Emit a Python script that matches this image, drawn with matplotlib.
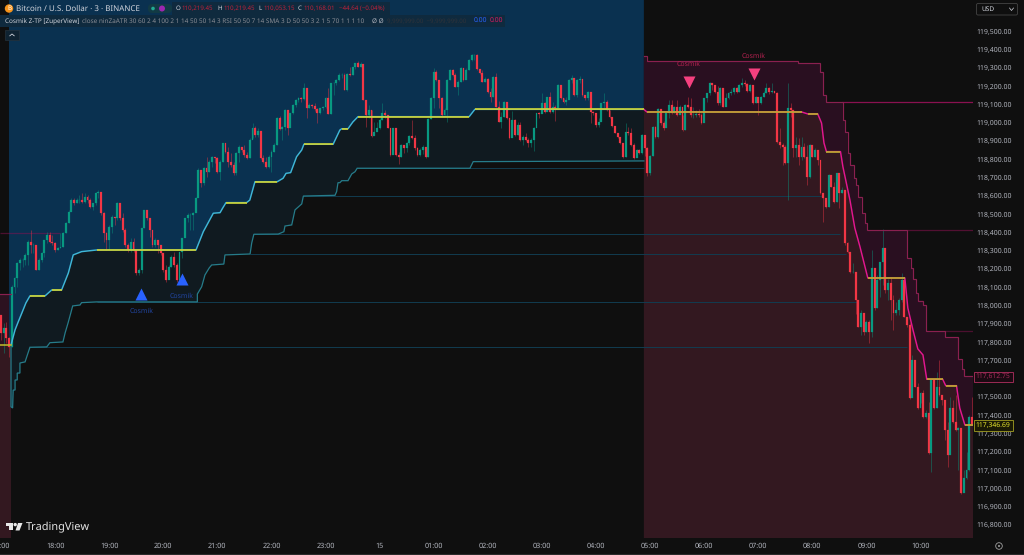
import numpy as np
import matplotlib
matplotlib.use("Agg")
import matplotlib.pyplot as plt
from matplotlib.patches import Rectangle, FancyBboxPatch, Circle, Polygon

plt.rcParams['font.family'] = ['Noto Sans', 'DejaVu Sans']
plt.rcParams['text.hinting'] = 'no_hinting'

first_open = 117940
closes = [
117842,117870,117815,117770,118097,118143,118225,118243,118243,118270,118343,118325,118325,118188,118243,118280,118352,118380,118343,118334,
118298,118307,118316,118389,118444,118507,118571,118553,118571,118571,118562,118590,118571,118535,118553,118608,118617,118498,118389,118352,
118425,118480,118471,118553,118471,118407,118325,118298,118343,118298,118170,118188,118416,118517,118471,118407,118325,118352,118325,118280,
118188,118134,118207,118261,118216,118134,118289,118362,118471,118489,118489,118498,118580,118735,118662,118744,118726,118781,118808,118799,
118726,118781,118881,118835,118781,118762,118717,118826,118863,118844,118817,118799,118899,118963,118926,118950,118799,118781,118753,118808,
118835,118872,119018,118957,118968,119063,118963,119045,119091,119118,119127,119122,119182,119072,119091,119085,119067,119045,119072,119081,
119127,119041,119209,119213,119227,119254,119255,119173,119261,119255,119297,119319,119301,119315,119119,119036,119064,118922,118945,118964,
119009,119046,119036,118964,118818,118964,118818,118809,118872,118854,118882,118922,118909,118854,118818,118845,118860,118809,119013,119128,
119273,119228,119128,119036,119064,119228,119283,119255,119191,119219,119292,119228,119283,119337,119365,119366,119286,119264,119219,119232,
119164,119137,119246,119082,119000,119027,119109,119018,118909,119009,118927,118982,118900,118914,118900,118882,118900,118964,119046,119042,
119104,119055,119133,119055,119082,119073,119201,119128,119109,119119,119228,119237,119146,119228,119232,119146,119128,119164,119055,119046,
118982,119000,119100,119109,119064,119027,118976,118940,118914,118882,118809,118945,118936,118872,118799,118845,118830,118927,118854,118717,
118812,118973,118918,119068,118991,118964,119046,119091,119046,119078,119036,119078,118954,119091,119082,119036,119036,119042,119036,118991,
119128,119155,119210,119201,119164,119100,119182,119082,119128,119155,119164,119182,119164,119201,119210,119206,119170,119201,119100,119133,
119100,119133,119159,119182,119164,119170,119159,118891,118872,118863,118772,119073,119064,118854,118872,118809,118863,118809,118699,118872,
118809,118845,118790,118608,118581,118535,118708,118644,118562,118717,118608,118626,118335,118289,118180,118180,118025,117879,117952,117851,
117906,117851,118200,117979,118134,118230,118310,118079,118116,118025,117952,117970,118025,118134,117933,117888,117487,117696,117551,117432,
117514,117387,117405,117186,117587,117432,117551,117505,117478,117314,117177,117432,117359,117314,117323,116967,117049,117095,117387,117347]
highs = [
117942,117897,117906,117824,118106,118152,118234,118252,118252,118280,118352,118407,118334,118325,118252,118289,118352,118398,118398,118380,
118343,118316,118389,118398,118453,118517,118580,118580,118580,118599,118608,118608,118599,118580,118557,118617,118626,118617,118507,118398,
118435,118489,118480,118562,118553,118498,118416,118334,118362,118362,118298,118198,118416,118517,118517,118471,118371,118362,118352,118325,
118270,118216,118216,118270,118289,118225,118289,118362,118471,118498,118498,118507,118590,118745,118717,118753,118808,118790,118812,118808,
118808,118790,118885,118872,118863,118826,118781,118835,118872,118863,118872,118835,118908,118994,118976,118963,118950,118817,118808,118817,
118844,118881,119023,119030,118976,119067,119063,119049,119094,119122,119132,119132,119209,119182,119100,119096,119103,119072,119072,119085,
119132,119185,119213,119218,119231,119264,119264,119264,119264,119301,119301,119323,119334,119328,119301,119119,119091,119064,119000,119000,
119018,119100,119064,119036,118964,118967,118964,118836,118878,118863,118891,118927,119009,118927,118863,118854,118872,118863,119018,119133,
119292,119283,119228,119137,119073,119232,119286,119286,119264,119228,119297,119292,119292,119341,119368,119370,119370,119286,119283,119246,
119237,119182,119250,119268,119115,119055,119115,119064,119018,119060,119013,119000,119000,118927,118936,118909,118909,118969,119046,119055,
119155,119109,119137,119164,119109,119091,119204,119201,119128,119137,119232,119255,119232,119232,119250,119232,119140,119170,119164,119060,
119046,119018,119104,119155,119119,119064,119027,118976,118940,118914,118882,118991,118973,118964,118882,118849,118849,118933,118918,118863,
118818,118976,118976,119073,119068,119005,119049,119118,119118,119086,119118,119091,119036,119095,119137,119128,119082,119064,119068,119046,
119131,119159,119219,119210,119201,119195,119188,119182,119155,119164,119177,119191,119188,119204,119237,119228,119210,119206,119201,119140,
119137,119140,119170,119210,119188,119210,119164,119164,118964,118882,118872,119210,119100,119064,118918,118909,118914,118882,118872,118878,
118872,118854,118845,118763,118608,118581,118714,118690,118672,118721,118645,118645,118626,118344,118280,118225,118180,118025,117970,117924,
117915,117915,118298,118200,118160,118230,118413,118300,118140,118150,118050,118015,118034,118170,118145,117933,117897,117724,117660,117569,
117523,117532,117423,117469,117591,117587,117633,117696,117496,117469,117359,117496,117478,117505,117332,117314,117095,117195,117396,117496]
lows = [
117806,117733,117787,117714,117769,118061,118097,118188,118207,118216,118216,118280,118280,118188,118188,118234,118261,118334,118334,118325,
118289,118298,118307,118316,118389,118444,118517,118544,118553,118553,118553,118553,118553,118526,118517,118544,118580,118489,118343,118298,
118298,118389,118435,118462,118462,118398,118316,118289,118289,118289,118161,118161,118170,118416,118462,118371,118316,118316,118280,118270,
118179,118125,118161,118207,118207,118125,118179,118252,118380,118453,118407,118407,118507,118600,118644,118653,118699,118726,118753,118771,
118717,118680,118781,118826,118753,118753,118708,118708,118781,118835,118808,118793,118799,118908,118917,118917,118793,118771,118744,118744,
118726,118835,118872,118954,118899,118954,118926,118968,119041,119081,119109,119109,119118,119018,119072,119072,119060,118994,119041,119063,
119072,119041,119041,119145,119200,119223,119237,119173,119170,119250,119255,119286,119297,119301,119119,118973,119018,118918,118940,118954,
118958,119009,119018,118964,118812,118827,118812,118769,118809,118827,118836,118872,118903,118845,118812,118812,118823,118800,118809,119015,
119073,119224,119073,119033,119036,119000,119228,119250,119188,119146,119219,119224,119232,119283,119334,119337,119283,119261,119215,119219,
119159,119109,119137,119078,118996,118967,119027,119013,118903,118914,118922,118927,118896,118872,118896,118863,118863,118841,118969,119018,
119046,119049,119073,119049,119046,119005,119073,119122,119104,119091,119164,119210,119140,119137,119210,119140,119119,119119,118995,119036,
118973,118969,119009,119073,119058,119022,118973,118936,118909,118876,118800,118809,118927,118867,118794,118805,118823,118823,118812,118703,
118708,118812,118909,118909,118982,118954,118969,119018,119042,119046,119031,119042,118951,118954,119073,119027,119018,119027,119024,118987,
119031,119109,119146,119173,119159,119091,119091,119078,119122,119124,119146,119151,119155,119164,119191,119195,119164,119164,119097,119100,
119036,119097,119133,119159,119151,119159,119155,118885,118854,118763,118769,118572,119027,118809,118809,118763,118790,118800,118654,118690,
118805,118809,118763,118604,118453,118526,118535,118641,118557,118562,118526,118608,118326,118284,118174,118174,117950,117875,117833,117833,
117851,117791,117824,117970,117979,118043,118105,118061,118025,117915,117860,117943,117943,118015,117930,117879,117481,117496,117547,117427,
117459,117377,117377,117182,117086,117427,117432,117501,117450,117259,117113,117204,117350,117310,117095,116964,116976,117046,117091,117346]

# trend line while long (bar index, price); flat stretches are drawn yellow
long_x = [3.7,5.2,6.4,7.7,9.2,10.7,16.3,18.7,22.4,24.9,26.7,29.8,35.4,72.1,74.8,78.5,81,82,83.2,90.8,92,93.9,102.1,104.3,105.4,107.1,109.3,111.2,112,122.8,125.3,126,128.3,130.1,132,173.1,175.2,237.7]
long_p = [117779,117861,117906,117953,118008,118047,118047,118079,118079,118172,118271,118289,118298,118298,118398,118499,118502,118528,118557,118557,118571,118671,118671,118690,118717,118721,118808,118845,118876,118876,118954,118961,118961,118998,119027,119027,119067,119067]
short_x = [237.7,238.8,296,298.3,302,303.4,304.3,305.2,310.4,311.3,313.9,315.7,317.6,320.5,334.2,335.3,337.2,339,340.9,342.3,348.2,349.3,353.3,354.5,356.4,359.4]
short_p = [119067,119053,119053,119042,119042,118992,118883,118836,118836,118753,118571,118418,118316,118145,118145,117981,117861,117757,117724,117591,117591,117556,117556,117434,117341,117341]
stub_x = [-0.4,3.7]
stub_p = [117779,117779]

# lower band while long
lower_x = [3.7,3.7,4.3,4.5,5.2,5.2,6,6,7,7,8.9,10,10.7,16.9,18.1,22.9,23.7,24.8,25.8,26.5,29.2,29.8,35.4,72.6,72.6,74.2,75.4,77,77.9,82.4,82.8,92.1,92.7,93.5,102.5,104.6,105,107.5,108.7,111.2,111.8,123.5,124.1,124.6,125.3,126,128.3,129.7,130.9,131.7,173.4,174,174.6,237.7]
lower_p = [117779,117441,117434,117532,117532,117587,117587,117625,117625,117680,117686,117735,117766,117768,117791,117795,117844,117899,117953,117992,117997,118010,118014,118014,118057,118097,118161,118200,118216,118221,118271,118276,118336,118384,118385,118398,118429,118435,118517,118550,118593,118597,118617,118666,118666,118677,118677,118714,118726,118745,118745,118763,118781,118785]

# upper band while short: each price holds until the next bar index
upper_x = [237.7,238.7,294.6,302.8,303.9,305.2,311.2,312,313,314.1,315.3,316.1,316.8,318.2,319.4,320.3,335.1,336.3,337.3,338.3,339.1,341,342,349.2,353.9,355.2,356.1,359.4]
upper_p = [119359,119331,119319,119273,119146,119106,119009,118945,118830,118763,118692,118653,118589,118500,118446,118407,118254,118198,118138,118065,118021,117997,117855,117821,117700,117647,117609,117609]

tp_levels = [118014,117766,118276,118385,118593,118745]
tp_starts = [35.4,10.7,92,93.5,111.8,131.7]
tp_ends = [316.6,334.9,312.5,310.2,303.8,237.7]
sl_levels = [119106,118407,117855,118393]
sl_starts = [311,335,349,-0.4]
sl_ends = [359.4,359.4,359.4,21.8]
sl_alpha = [1.0,0.55,0.5,0.5]

buy_x = [51.8,66.9]
buy_p = [118057,118139]
sell_x = [254.3,278.4]
sell_p = [119217,119260]

y_ticks = [119500,119400,119300,119200,119100,119000,118900,118800,118700,118600,118500,118400,118300,118200,118100,118000,117900,117800,117700,117500,117400,117300,117200,117100,117000,116900,116800]
time_ticks = [0,20,40,60,80,100,120,140,160,180,200,220,240,260,280,300,320,340]
time_labels = ['17:00','18:00','19:00','20:00','21:00','22:00','23:00','15','01:00','02:00','03:00','04:00','05:00','06:00','07:00','08:00','09:00','10:00']

BG = '#0f0f0f'
GREY = '#b2b5be'
FAM = 'Noto Sans'

fig = plt.figure(figsize=(10.24, 5.55), dpi=100, facecolor=BG)
ax = fig.add_axes([0, 17/555, 973/1024, 538/555])
ax.set_facecolor(BG)
ax.set_xlim(-0.37, 359.4)
ax.set_ylim(116723, 119665)
for s in ax.spines.values():
    s.set_visible(False)

top, bot = 119665, 116723
def stairs(x, p):
    xs, ps = [x[0]], [p[0]]
    for k in range(1, len(x)):
        xs += [x[k], x[k]]
        ps += [p[k-1], p[k]]
    return xs, ps
ux, up = stairs(upper_x, upper_p)

# background zones
ax.fill(stub_x + stub_x[::-1], [117779,117779,bot,bot], color='#331820', lw=0, zorder=1)
ax.fill([-0.37,3.0,3.0,-0.37], [118057,118057,117779,117779], color='#2c1220', lw=0, zorder=1)
ax.fill([2.95]+long_x+[237.7,2.95], [117779]+long_p+[top,top], color='#0a3150', lw=0, zorder=1)
ax.fill(long_x+lower_x[::-1], long_p+lower_p[::-1], color='#101a20', lw=0, zorder=1)
ax.fill(short_x+[359.4,237.7], short_p+[bot,bot], color='#331820', lw=0, zorder=1)
ax.fill(short_x+ux[::-1], short_p+up[::-1], color='#290f20', lw=0, zorder=1)

# take-profit / stop levels
ax.hlines(tp_levels, tp_starts, tp_ends, color='#123c50', lw=0.7, zorder=2)
for lv, a, b, al in zip(sl_levels, sl_starts, sl_ends, sl_alpha):
    ax.hlines(lv, a, b, color='#8a1150', lw=0.9, alpha=al, zorder=2)

# candles
c = np.array(closes, float)
h = np.array(highs, float)
l = np.array(lows, float)
o = np.r_[first_open, c[:-1]]
idx = np.arange(len(c))
col = np.where(c >= o, '#089981', '#f23645')
ax.vlines(idx, l, h, colors=col, lw=0.5, alpha=0.6, zorder=3)
ax.bar(idx, np.abs(c-o), bottom=np.minimum(o, c), width=0.7, color=col, edgecolor=col, linewidth=0.15, zorder=3)

# bands
ax.plot(lower_x, lower_p, color='#267c8a', lw=0.9, zorder=4, solid_joinstyle='miter')
ax.plot(ux, up, color='#8a2050', lw=0.85, zorder=4, solid_joinstyle='miter')
ax.plot([-0.37,3.7], [118057,118057], color='#8a2050', lw=0.85, zorder=4)

# trend line: flat stretches yellow
def trend(x, p, base, yel):
    ax.plot(x, p, color=base, lw=1.05, zorder=5, solid_capstyle='round')
    for k in range(len(x)-1):
        if p[k] == p[k+1]:
            ax.plot(x[k:k+2], p[k:k+2], color=yel, lw=1.15, zorder=6, solid_capstyle='butt')
trend(long_x, long_p, '#3fb7d8', '#d8d52a')
trend(short_x, short_p, '#e3178f', '#bdb62a')
ax.plot(stub_x, stub_p, color='#bdb62a', lw=1.15, zorder=6)

# signals
ax.scatter(buy_x, buy_p, marker='^', s=75, color='#2962ff', linewidths=0, zorder=7)
ax.scatter(sell_x, sell_p, marker='v', s=75, color='#f5407f', linewidths=0, zorder=7)
for x, p, dy in zip(buy_x, buy_p, [-17,-17]):
    ax.annotate('Cosmik', (x, p), xytext=(0, dy*0.72), textcoords='offset points', ha='center', va='center', fontsize=5.0, color='#2145a0', family=FAM, zorder=7)
for x, p, dy in zip(sell_x, sell_p, [18,18]):
    ax.annotate('Cosmik', (x, p), xytext=(0, dy*0.72), textcoords='offset points', ha='center', va='center', fontsize=5.0, color='#b3214f', family=FAM, zorder=7)

# axes ticks
ax.yaxis.tick_right()
ax.set_yticks(y_ticks)
ax.set_yticklabels([f'{v:,.2f}' for v in y_ticks], fontsize=5.0, color=GREY, family=FAM)
ax.tick_params(axis='y', length=0, pad=2.5)
ax.set_xticks(time_ticks)
ax.set_xticklabels(time_labels, fontsize=5.2, color=GREY, family=FAM)
ax.tick_params(axis='x', length=0, pad=3)

# chrome in pixel coordinates
ov = fig.add_axes([0, 0, 1, 1], facecolor='none')
ov.set_xlim(0, 1024)
ov.set_ylim(555, 0)
ov.axis('off')

ov.plot([0,1024],[553.5,553.5], color='#2a2a2a', lw=0.8)
ov.add_patch(Rectangle((172,2),218,13, color='#0f2a3e', lw=0))
ov.add_patch(Rectangle((0,15),505,12, color='#0f2a3e', lw=0))
ov.add_patch(Circle((9,8.5),4.2, color='#f7931a', lw=0))
ov.text(9,8.5,'B',fontsize=4.5,color='white',ha='center',va='center',family=FAM,weight='bold')
ov.text(16,8.5,'Bitcoin / U.S. Dollar · 3 · BINANCE',fontsize=5.75,color='#d1d4dc',va='center',family=FAM)
ov.add_patch(FancyBboxPatch((148,4),24,9,boxstyle='round,pad=0,rounding_size=4',color='#123a44',lw=0))
ov.add_patch(Circle((153,8.5),1.8,color='#22ab94',lw=0))
ov.add_patch(Circle((162,8.5),3.0,color='#9c27b0',lw=0))

rows = [(176,'O','#d1d4dc'),(181,'110,219.45','#c1213a'),(217,'H','#d1d4dc'),(223,'110,219.45','#c1213a'),(258,'L','#d1d4dc'),(263,'110,053.15','#c1213a'),(298,'C','#d1d4dc'),(303,'110,168.01','#c1213a'),(339,'−44.64 (−0.04%)','#c1213a')]
for x,t,cc in rows:
    ov.text(x,8.5,t,fontsize=4.45,color=cc,va='center',family=FAM)

ov.text(5,21.5,'Cosmik Z-TP [ZuperView]',fontsize=4.6,color='#d1d4dc',va='center',family=FAM,weight='semibold')
ov.text(82,21.5,'close ninZaATR 30 60 2 4 100 2 1 14 50 50 14 3 RSI 50 50 7 14 SMA 3 D 50 50 3 2 1 5 70 1 1 1 10',fontsize=4.62,color='#8a8d95',va='center',family=FAM)
ov.text(372,21.5,'Ø Ø',fontsize=4.6,color='#b2b5be',va='center',family=FAM)
ov.text(387,21.5,'9,999,999.00  −9,999,999.00',fontsize=4.4,color='#30333a',va='center',family=FAM)
ov.text(474,21.5,'0.00',fontsize=4.9,color='#2962ff',va='center',family=FAM,weight='semibold')
ov.text(490,21.5,'0.00',fontsize=4.9,color='#d81b60',va='center',family=FAM,weight='semibold')

ov.add_patch(Rectangle((5,30),14,10,facecolor='#0f2332',edgecolor='#25323c',lw=0.5))
ov.plot([9.8,12,14.2],[35.8,34,35.8],color='#d1d4dc',lw=0.6)

ov.add_patch(FancyBboxPatch((976.5,3.5),41,11.5,boxstyle='round,pad=0,rounding_size=1.5',facecolor=BG,edgecolor='#444444',lw=0.6))
ov.text(981,9.3,'USD',fontsize=4.7,color='#d1d4dc',va='center',family=FAM)
ov.plot([1009.5,1011.5,1013.5],[8,10.5,8],color='#d1d4dc',lw=0.5)

ov.add_patch(Rectangle((974,371.5),38.5,10,facecolor='#1b0a12',edgecolor='#9c2a55',lw=0.7))
ov.text(993,376.6,'117,612.75',fontsize=4.9,color='#a42a58',ha='center',va='center',family=FAM)
ov.add_patch(Rectangle((974,419.5),38.5,11,facecolor='#1a1a05',edgecolor='#8f8c1f',lw=0.7))
ov.text(993,425,'117,346.69',fontsize=4.9,color='#eaea2e',ha='center',va='center',family=FAM,weight='semibold')
ov.add_patch(Circle((999,546),3.3,facecolor='none',edgecolor='#a0a0a0',lw=0.6))
ov.add_patch(Circle((999,546),1.0,color='#a0a0a0',lw=0))

# TradingView mark
ov.add_patch(Rectangle((6,523),7,3.2,color='#e8e8e8',lw=0))
ov.add_patch(Rectangle((9.2,523),3.8,7.2,color='#e8e8e8',lw=0))
ov.add_patch(Circle((15.2,524.6),1.7,color='#e8e8e8',lw=0))
ov.add_patch(Polygon([(18,523),(22.5,523),(19.5,530.5),(15.5,530.5)],color='#e8e8e8',lw=0))
ov.text(26,527,'TradingView',fontsize=7.9,color='#e4e4e4',va='center',family=FAM,weight='semibold')

fig.savefig('out.png', dpi=100, facecolor=BG)
